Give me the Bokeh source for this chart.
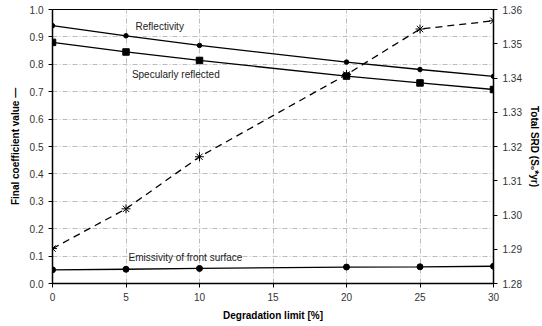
from bokeh.plotting import figure
from bokeh.models import Range1d, LinearAxis, FixedTicker, NumeralTickFormatter
from bokeh.core.properties import value
from bokeh.embed import file_html
from bokeh.resources import INLINE

degradation = [0, 5, 10, 20, 25, 30]
reflectivity = [0.941, 0.904, 0.869, 0.808, 0.781, 0.756]
specular = [0.880, 0.845, 0.814, 0.757, 0.732, 0.708]
emissivity = [0.050, 0.052, 0.055, 0.060, 0.061, 0.063]
total_srd = [1.2902, 1.3018, 1.3170, 1.3410, 1.3543, 1.3567]

left_ticks = [0.0, 0.1, 0.2, 0.3, 0.4, 0.5, 0.6, 0.7, 0.8, 0.9, 1.0]
right_ticks = [1.28, 1.29, 1.30, 1.31, 1.32, 1.33, 1.34, 1.35, 1.36]
x_ticks = [0, 5, 10, 15, 20, 25, 30]

FONT = "Liberation Sans"

p = figure(width=542, height=326, output_backend="svg", toolbar_location=None,
           x_range=Range1d(0, 30), y_range=Range1d(0, 1.0),
           min_border_left=52, min_border_right=49, min_border_top=9, min_border_bottom=43)
p.extra_y_ranges = {"srd": Range1d(1.28, 1.36)}

p.outline_line_color = "black"
p.outline_line_width = 1
p.background_fill_color = "white"

p.xaxis.ticker = FixedTicker(ticks=x_ticks)
p.yaxis.ticker = FixedTicker(ticks=left_ticks)
p.yaxis.formatter = NumeralTickFormatter(format="0.0")
p.xgrid.ticker = FixedTicker(ticks=x_ticks)
p.ygrid.ticker = FixedTicker(ticks=left_ticks)

for g in (p.xgrid, p.ygrid):
    g.grid_line_color = "#bdbdbd"
    g.grid_line_alpha = 1.0
    g.grid_line_dash = "5 2 1 2"
    g.grid_line_width = 1

right = LinearAxis(y_range_name="srd", ticker=FixedTicker(ticks=right_ticks),
                   formatter=NumeralTickFormatter(format="0.00"))
p.add_layout(right, "right")

p.xaxis.axis_label = "Degradation limit [%]"
p.yaxis[0].axis_label = "Final coefficient value \u2014"
right.axis_label = "Total SRD (S\u2080*yr)"

for ax in p.xaxis + p.yaxis:
    ax.axis_line_color = "black"
    ax.axis_line_width = 1.5
    ax.major_tick_line_color = "black"
    ax.major_tick_out = 4
    ax.major_tick_in = 0
    ax.minor_tick_line_color = None
    ax.major_label_text_font = FONT
    ax.major_label_text_font_size = "10px"
    ax.major_label_text_color = "#333333"
    ax.axis_label_text_font = "Liberation Sans, DejaVu Sans"
    ax.axis_label_text_font_size = "10px"
    ax.axis_label_text_font_style = "bold"
    ax.axis_label_text_color = "black"
    ax.axis_label_standoff = 6

right.axis_label_standoff = 4

# Reflectivity
p.line(degradation, reflectivity, line_color="black", line_width=1.3)
p.scatter(degradation, reflectivity, marker="circle", size=4.5, color="black")
# Specularly reflected
p.line(degradation, specular, line_color="black", line_width=1.3)
p.scatter(degradation, specular, marker="square", size=6.5, color="black")
# Emissivity
p.line(degradation, emissivity, line_color="black", line_width=1.3)
p.scatter(degradation, emissivity, marker="circle", size=6, color="black")
# Total SRD
p.line(degradation, total_srd, y_range_name="srd", line_color="black",
       line_width=1.3, line_dash="7 5")
p.scatter(degradation, total_srd, y_range_name="srd", marker="asterisk",
          size=9, line_color="black", line_width=1)

p.text(x=[5.65, 5.4, 5.17], y=[0.937, 0.764, 0.094],
       text=["Reflectivity", "Specularly reflected", "Emissivity of front surface"],
       text_font=value(FONT), text_font_size="10px", text_color="#222222",
       text_baseline="middle", text_align="left")

open("out.html", "w").write(file_html(p, INLINE))
